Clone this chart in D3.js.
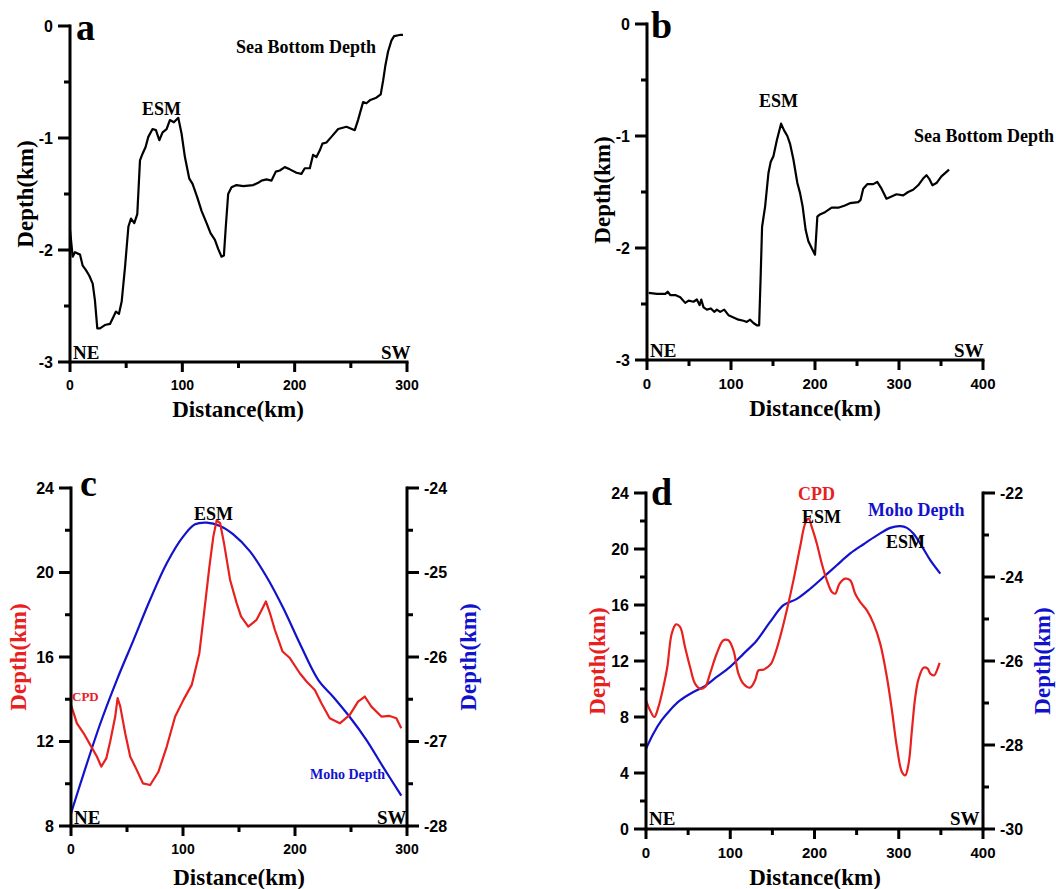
<!DOCTYPE html>
<html>
<head>
<meta charset="utf-8">
<script src="https://cdn.jsdelivr.net/npm/d3@7"></script>
<style>
body { margin: 0; background: #fff; }
svg { display: block; }
</style>
</head>
<body>
<svg id="fig" width="1056" height="889"></svg>
<script>
// panel a: sea bottom depth, km along profile
var aDist = [0,2.4,4.4,6.5,8.9,11.3,14.2,17.2,20.2,22.2,24.3,26.7,31,35.6,38.5,40.9,43.6,46,49,52,54.3,57.2,59.9,62.3,64.6,67.3,69.7,73.5,76.5,79.5,82.4,86,88.9,92.5,96.4,99.3,102.3,106.1,109.1,113.3,117.1,121.6,125.1,129,131.9,134.9,137,138.7,140.8,143.8,148.2,154.2,163.1,167.5,170.5,174.9,179.4,183.2,186.8,191.2,195.7,201.6,206,209,213.5,216.4,219.4,222.4,224.7,228.3,232.7,238.7,246.1,253.5,256.4,260.9,263.9,267.4,272.7,276.6,278.7,280.8,283.1,286.1,288.5,293.5,296.4];
var aDepth = [-1.82,-2.06,-2.02,-2.03,-2.04,-2.14,-2.18,-2.23,-2.30,-2.45,-2.70,-2.70,-2.67,-2.66,-2.60,-2.55,-2.57,-2.46,-2.15,-1.79,-1.72,-1.76,-1.68,-1.20,-1.14,-1.08,-0.99,-0.92,-0.93,-1.02,-0.95,-0.92,-0.84,-0.86,-0.82,-0.96,-1.17,-1.36,-1.41,-1.53,-1.65,-1.76,-1.85,-1.91,-1.99,-2.06,-2.05,-1.79,-1.50,-1.44,-1.42,-1.43,-1.42,-1.40,-1.38,-1.37,-1.38,-1.30,-1.29,-1.26,-1.28,-1.31,-1.32,-1.27,-1.27,-1.15,-1.17,-1.11,-1.05,-1.04,-0.99,-0.92,-0.90,-0.93,-0.84,-0.68,-0.69,-0.66,-0.64,-0.61,-0.49,-0.35,-0.23,-0.13,-0.09,-0.08,-0.08];

// panel b: sea bottom depth
var bDist = [2,11.9,21.8,24.6,27.7,33.7,39.6,45.5,49.5,55.4,59.4,62.6,64.6,67.3,71.3,76,80,83.2,87.1,91.9,97,103,108.9,114.9,118.8,122.8,126.7,130.7,133.5,135.4,137,140.6,144.6,147.3,150.5,154.5,159.6,163.2,167.1,170.3,174.3,179,182.2,185.3,188.9,192.1,196,200,202.8,205.9,211.9,219.8,227.7,235.6,241.6,251.5,254.3,257.4,262.2,269.3,274.1,279.2,285.1,291.1,297,305,310.9,316.8,322.8,328.7,332.7,335.8,339.8,344.6,350.5,359.6];
var bDepth = [-2.40,-2.41,-2.41,-2.39,-2.42,-2.42,-2.44,-2.49,-2.47,-2.48,-2.46,-2.51,-2.46,-2.53,-2.55,-2.54,-2.57,-2.55,-2.57,-2.55,-2.60,-2.62,-2.64,-2.65,-2.66,-2.64,-2.67,-2.69,-2.69,-2.23,-1.81,-1.63,-1.33,-1.23,-1.18,-1.04,-0.89,-0.95,-1.00,-1.07,-1.21,-1.42,-1.51,-1.63,-1.84,-1.94,-2.00,-2.06,-1.72,-1.70,-1.68,-1.64,-1.64,-1.62,-1.60,-1.59,-1.57,-1.47,-1.43,-1.43,-1.41,-1.47,-1.56,-1.54,-1.52,-1.53,-1.50,-1.48,-1.44,-1.38,-1.35,-1.38,-1.44,-1.42,-1.36,-1.30];

// panel c: CPD (left axis) and Moho depth (right axis)
var cCpdDist = [0,5.3,11.3,17.2,23.2,27,31.5,35,39.5,41.6,44,48.4,52.9,57.3,64.2,70.7,78.1,85.5,93,100.4,107.8,114.6,118.8,123.6,127.1,130.1,133.1,136.6,142,147.9,151.8,158.3,165.7,170.2,174,177.6,182,188.9,195.4,204.3,210.3,217.7,223.6,231,240,248.9,256.3,262.3,268.2,277.1,284.5,290.5,294.9];
var cCpd = [13.73,12.86,12.39,11.84,11.28,10.81,11.2,12.0,13.18,14.05,13.65,12.39,11.28,10.81,10.02,9.94,10.57,11.76,13.18,13.97,14.68,16.18,18.08,20.29,21.71,22.47,22.34,21.39,19.66,18.55,17.92,17.44,17.76,18.23,18.63,18.08,17.29,16.26,15.95,15.23,14.84,14.44,13.81,13.1,12.86,13.26,13.89,14.13,13.65,13.18,13.21,13.10,12.63];
var cMohoDist = [0,11.3,26.1,41,55.8,70.7,85.5,100.4,110.8,121.2,133.1,144.9,159.8,174.6,189.5,204.3,220.7,234,248.9,263.7,278.6,294.9];
var cMoho = [-27.85,-27.38,-26.79,-26.27,-25.80,-25.32,-24.89,-24.57,-24.43,-24.41,-24.45,-24.55,-24.75,-25.05,-25.42,-25.84,-26.27,-26.47,-26.71,-26.98,-27.30,-27.64];

// panel d
var dCpdDist = [0,4.8,9.9,14.7,20.6,25.3,30.5,35.6,40.4,46.3,52.3,58.2,64.2,70.1,76,83.9,91.9,97.8,103.8,109.7,115.6,123.6,129.5,133.5,139.4,143.4,148.5,153.3,159.2,167.1,175,182.9,188.9,192.9,196.8,202.8,208.7,214.7,220.6,224.6,229.7,236.4,242.4,248.3,254.3,262.2,270.1,278,285.9,291.9,297.8,303.8,307.7,311.7,315.6,319.6,323.6,329.5,334.3,337.4,342.2,345.3,348.5];
var dCpd = [9.19,8.48,8.0,8.71,10.14,11.57,13.95,14.62,14.43,13.0,11.57,10.38,10.02,10.14,11.10,12.52,13.48,13.48,12.76,11.10,10.38,10.10,10.62,11.33,11.38,11.52,11.81,12.52,13.71,15.62,17.76,20.14,21.81,22.17,21.57,20.38,18.95,17.76,16.93,16.81,17.52,17.88,17.76,16.81,16.21,15.62,14.67,13.24,10.86,8.48,5.86,4.07,3.83,4.67,7.05,9.43,10.74,11.52,11.45,11.10,10.98,11.33,11.86];
var dMohoDist = [0,8.7,18.6,28.5,40.4,56.2,68.1,83.9,99.8,115.6,131.5,147.3,163.2,179,194.9,210.7,226.5,242.4,258.2,274.1,289.9,301.8,309.7,317.6,327.5,337.4,349.3];
var dMoho = [-28.09,-27.73,-27.41,-27.17,-26.94,-26.74,-26.62,-26.38,-26.14,-25.83,-25.51,-25.07,-24.67,-24.52,-24.28,-24.0,-23.72,-23.44,-23.22,-23.01,-22.83,-22.79,-22.83,-22.97,-23.27,-23.60,-23.92];

// tick labels
var xTicks300 = [0,100,200,300];
var xTicks400 = [0,100,200,300,400];
var yTicksAB = [0,-1,-2,-3];
var yTicksCleft = [8,12,16,20,24];
var yTicksCright = [-24,-25,-26,-27,-28];
var yTicksDleft = [0,4,8,12,16,20,24];
var yTicksDright = [-22,-24,-26,-28,-30];

var RED = "#e8201e", BLUE = "#1212cc";
var svg = d3.select("#fig");

function zip(xs, ys) { return xs.map(function(x, i) { return [x, ys[i]]; }); }

function minorOf(major, step) {
  var lo = d3.min(major), hi = d3.max(major), out = [];
  for (var v = lo; v <= hi + 1e-9; v += step) {
    if (major.indexOf(+v.toFixed(6)) < 0) out.push(+v.toFixed(6));
  }
  return out;
}

// side: "left", "right", "bottom"; at = pixel position of the axis line
function drawAxis(side, scale, major, minorStep, at, fs) {
  var bot = side === "bottom", W = 3;
  var r = scale.range(), lo = Math.min(r[0], r[1]), hi = Math.max(r[0], r[1]);
  var ticks = major.map(function(v) { return { v: v, len: bot ? 10 : 12 }; })
    .concat(minorOf(major, minorStep).map(function(v) { return { v: v, len: 6 }; }));
  var g = svg.append("g");

  // axis line
  if (bot) g.append("rect").attr("x", lo - W / 2).attr("y", at - W / 2).attr("width", hi - lo + W).attr("height", W);
  else g.append("rect").attr("x", at - W / 2).attr("y", lo - W / 2).attr("width", W).attr("height", hi - lo + W);

  // tick marks
  g.selectAll("rect.tk").data(ticks).join("rect").attr("class", "tk")
    .attr("x", function(d) { return bot ? scale(d.v) - W / 2 : (side === "left" ? at - d.len : at); })
    .attr("y", function(d) { return bot ? at : scale(d.v) - W / 2; })
    .attr("width", function(d) { return bot ? W : d.len; })
    .attr("height", function(d) { return bot ? d.len : W; });
  g.selectAll("rect").attr("fill", "#000");

  // tick labels
  g.selectAll("text").data(major).join("text")
    .attr("x", function(d) { return bot ? scale(d) : (side === "left" ? at - 17 : at + 17); })
    .attr("y", function(d) { return bot ? at + 18 + fs * 0.72 : scale(d) + fs * 0.36; })
    .attr("text-anchor", bot ? "middle" : (side === "left" ? "end" : "start"))
    .attr("fill", "#000")
    .style("font-family", "'Liberation Sans', Arial, sans-serif")
    .style("font-weight", "bold").style("font-size", fs + "px")
    .text(function(d) { return String(d); });
}

function label(x, y, txt, size, color, rot) {
  var t = svg.append("text")
    .attr("x", x).attr("y", y)
    .attr("fill", color || "#000")
    .style("font-family", "'Liberation Serif', 'Times New Roman', serif")
    .style("font-weight", "bold")
    .style("font-size", size + "px")
    .text(txt);
  if (rot) {
    t.attr("text-anchor", "middle").attr("transform", "rotate(-90," + x + "," + y + ")");
  }
  return t;
}

function xTitle(x, y) {
  label(x, y, "Distance(km)", 23).attr("text-anchor", "middle");
}

function line(x, y, pts, color, curve) {
  svg.append("path")
    .datum(pts)
    .attr("fill", "none")
    .attr("stroke", color)
    .attr("stroke-width", 2.2)
    .attr("stroke-linejoin", "round")
    .attr("d", d3.line().x(function(d) { return x(d[0]); }).y(function(d) { return y(d[1]); }).curve(curve || d3.curveLinear));
}

// ---- panel a
var xa = d3.scaleLinear().domain([0, 300]).range([70, 407]);
var ya = d3.scaleLinear().domain([0, -3]).range([26, 362]);
line(xa, ya, zip(aDist, aDepth), "#000");
drawAxis("left", ya, yTicksAB, 0.5, 70, 16);
drawAxis("bottom", xa, xTicks300, 50, 362, 14);
label(76, 40, "a", 38);
label(236, 53, "Sea Bottom Depth", 18);
label(142, 115, "ESM", 18);
label(73, 359, "NE", 19);
label(381, 359, "SW", 19);
xTitle(238, 417);
label(33, 194, "Depth(km)", 23, "#000", true);

// ---- panel b
var xb = d3.scaleLinear().domain([0, 400]).range([647, 983]);
var yb = d3.scaleLinear().domain([0, -3]).range([24, 360]);
line(xb, yb, zip(bDist, bDepth), "#000");
drawAxis("left", yb, yTicksAB, 0.5, 647, 16);
drawAxis("bottom", xb, xTicks400, 50, 360, 15);
label(651, 38, "b", 38);
label(914, 142, "Sea Bottom Depth", 18);
label(759, 107, "ESM", 18);
label(650, 357, "NE", 19);
label(954, 357, "SW", 19);
xTitle(815, 416);
label(610, 190, "Depth(km)", 23, "#000", true);

// ---- panel c
var xc = d3.scaleLinear().domain([0, 300]).range([71, 407]);
var ycl = d3.scaleLinear().domain([24, 8]).range([488, 826]);
var ycr = d3.scaleLinear().domain([-24, -28]).range([488, 826]);
line(xc, ycr, zip(cMohoDist, cMoho), BLUE, d3.curveCatmullRom);
line(xc, ycl, zip(cCpdDist, cCpd), RED);
drawAxis("left", ycl, yTicksCleft, 2, 71, 16);
drawAxis("right", ycr, yTicksCright, 0.5, 407, 16);
drawAxis("bottom", xc, xTicks300, 50, 826, 14);
label(80, 496, "c", 38);
label(194, 520, "ESM", 18);
label(72, 701, "CPD", 13, RED);
label(310, 779, "Moho Depth", 14, BLUE);
label(74, 824, "NE", 19);
label(377, 824, "SW", 19);
xTitle(239, 885);
label(26, 657, "Depth(km)", 23, RED, true);
label(476, 657, "Depth(km)", 23, BLUE, true);

// ---- panel d
var xd = d3.scaleLinear().domain([0, 400]).range([646, 983]);
var ydl = d3.scaleLinear().domain([24, 0]).range([493, 829]);
var ydr = d3.scaleLinear().domain([-22, -30]).range([493, 829]);
line(xd, ydr, zip(dMohoDist, dMoho), BLUE, d3.curveCatmullRom);
line(xd, ydl, zip(dCpdDist, dCpd), RED, d3.curveCatmullRom);
drawAxis("left", ydl, yTicksDleft, 2, 646, 16);
drawAxis("right", ydr, yTicksDright, 1, 983, 16);
drawAxis("bottom", xd, xTicks400, 50, 829, 15);
label(651, 505, "d", 38);
label(798, 500, "CPD", 18, RED);
label(802, 523, "ESM", 18);
label(868, 516, "Moho Depth", 18, BLUE);
label(886, 548, "ESM", 18);
label(649, 825, "NE", 19);
label(950, 825, "SW", 19);
xTitle(815, 885);
label(605, 661, "Depth(km)", 23, RED, true);
label(1050, 661, "Depth(km)", 23, BLUE, true);
</script>
</body>
</html>
